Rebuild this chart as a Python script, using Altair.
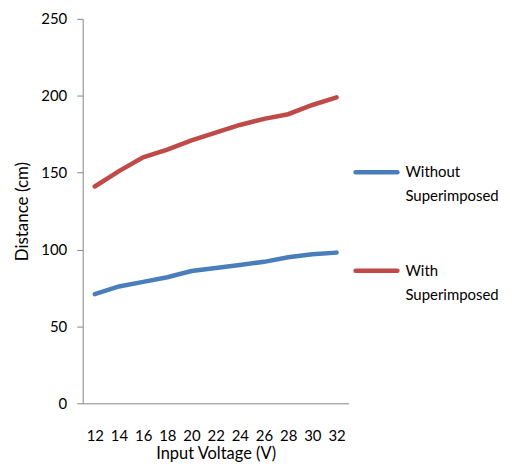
import altair as alt
import pandas as pd

voltage = [12, 14, 16, 18, 20, 22, 24, 26, 28, 30, 32]
without_sup = [71, 76, 79, 82, 86, 88, 90, 92, 95, 97, 98]
with_sup = [141, 151, 160, 165, 171, 176, 181, 185, 188, 194, 199]
series_names = ["Without Superimposed", "With Superimposed"]
series_lines = ["Without\nSuperimposed", "With\nSuperimposed"]
colors = ["#4A7EBB", "#BE4B48"]

rows = []
for v, a, b in zip(voltage, without_sup, with_sup):
    rows.append({"v": v, "d": a, "series": series_names[0]})
    rows.append({"v": v, "d": b, "series": series_names[1]})
df = pd.DataFrame(rows)

FONT = "Lato"
GRAY = "#868686"

color_scale = alt.Scale(domain=series_names, range=colors)

plot = alt.Chart(df).mark_line(strokeWidth=4.5, strokeCap="round").encode(
    x=alt.X("v:O", title="Input Voltage (V)",
            axis=alt.Axis(labelAngle=0, ticks=False, tickSize=0, labelPadding=25,
                          titlePadding=2, domainColor=GRAY, labelFontSize=15,
                          titleFontSize=16.5, titleFontWeight="normal",
                          labelColor="black", titleColor="black")),
    y=alt.Y("d:Q", title="Distance (cm)",
            scale=alt.Scale(domain=[0, 250]),
            axis=alt.Axis(values=[0, 50, 100, 150, 200, 250], grid=False, tickSize=6,
                          tickColor=GRAY, domainColor=GRAY, labelPadding=10,
                          titlePadding=9, labelFontSize=15, titleFontSize=17,
                          titleFontWeight="normal", labelColor="black", titleColor="black")),
    color=alt.Color("series:N", scale=color_scale, legend=None),
).properties(width=267, height=386)

leg_df = pd.DataFrame({"series": series_names, "label": series_lines})

leg_y = alt.Y("series:N",
              scale=alt.Scale(type="point", domain=series_names, range=[154, 253], padding=0),
              axis=None)

leg_rule = alt.Chart(leg_df).mark_rule(strokeWidth=4.5, strokeCap="round").encode(
    x=alt.value(2), x2=alt.value(44), y=leg_y,
    color=alt.Color("series:N", scale=color_scale, legend=None),
)
leg_text = alt.Chart(leg_df).mark_text(
    align="left", baseline="middle", lineBreak="\n", lineHeight=24,
    fontSize=15, font=FONT, color="black"
).encode(x=alt.value(52), y=leg_y, text="label:N")

legend = alt.layer(leg_rule, leg_text).properties(width=130, height=386)

chart = alt.hconcat(plot, legend, spacing=4).properties(
    padding={"left": 5, "top": 3, "right": 5, "bottom": 0}
).configure(font=FONT).configure_view(stroke=None)

chart.save("out.html", embed_options={"renderer": "svg", "actions": False})
